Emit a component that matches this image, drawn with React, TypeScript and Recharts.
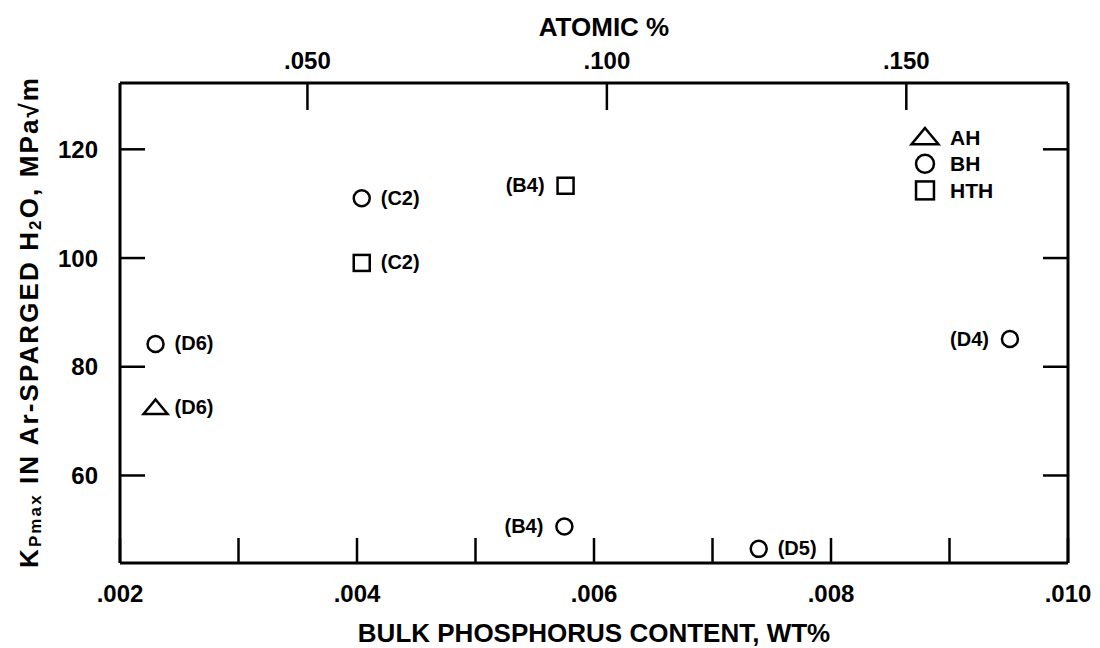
import { ScatterChart, Scatter, XAxis, YAxis, Legend } from 'recharts';

const font = '"Liberation Sans", Arial, Helvetica, sans-serif';

// bulk P content (wt%) vs K_Pmax (MPa√m), one set per heat treatment
const ahP = [0.0023];
const ahK = [72.5];
const ahTag = ['(D6)'];

const bhP = [0.0023, 0.00404, 0.00575, 0.00739, 0.00951];
const bhK = [84.2, 111.0, 50.6, 46.5, 85.1];
const bhTag = ['(D6)', '(C2)', '(B4)', '(D5)', '(D4)'];

const hthP = [0.00404, 0.00576];
const hthK = [99.1, 113.3];
const hthTag = ['(C2)', '(B4)'];

const wtTicks = [0.002, 0.003, 0.004, 0.005, 0.006, 0.007, 0.008, 0.009, 0.01];
const atTicks = [0.05, 0.1, 0.15];
const kTicks = [60, 80, 100, 120];

const wtDomain = [0.002, 0.01];
const atDomain = [0.0187, 0.177];
const kDomain = [43.9, 132.2];

const legendItems = ['AH', 'BH', 'HTH'];
// tags that sit on the left of their marker
const tagLeft = ['HTH (B4)', 'BH (B4)', 'BH (D4)'];

const toRows = (p: number[], k: number[], t: string[]) => p.map((v, i) => ({ p: v, k: k[i], tag: t[i] }));

const fmt = (v: number) => v.toFixed(3).replace(/^0/, '');

function Marker({ kind, cx, cy, big }: any) {
  const s = big ? 1.12 : 1;
  const common = { fill: 'none', stroke: '#000', strokeWidth: 2.5 };
  if (kind === 'AH') {
    return (
      <polygon
        points={`${cx},${cy - 8 * s} ${cx + 12 * s},${cy + 6.5 * s} ${cx - 12 * s},${cy + 6.5 * s}`}
        {...common}
      />
    );
  }
  if (kind === 'BH') return <circle cx={cx} cy={cy} r={8 * s} {...common} />;
  return <rect x={cx - 8 * s} y={cy - 8 * s} width={16 * s} height={16 * s} {...common} />;
}

const makeShape = (kind: string) => (props: any) => {
  const { cx, cy, payload } = props;
  const left = tagLeft.includes(`${kind} ${payload.tag}`);
  return (
    <g>
      <Marker kind={kind} cx={cx} cy={cy} />
      <text
        x={left ? cx - 21 : cx + 19}
        y={cy + 6.5}
        textAnchor={left ? 'end' : 'start'}
        fontSize={20}
        fontWeight="bold"
        fontFamily={font}
      >
        {payload.tag}
      </text>
    </g>
  );
};

const BottomTick = ({ x, y, payload }: any) => {
  const v = payload.value;
  const labelled = Math.round(v * 1000) % 2 === 0;
  return (
    <g>
      <line x1={x} x2={x} y1={y} y2={y - 25} stroke="#000" strokeWidth={2.5} />
      {labelled && (
        <text x={x} y={y + 39} textAnchor="middle" fontSize={24} fontWeight="bold" fontFamily={font}>
          {fmt(v)}
        </text>
      )}
    </g>
  );
};

const TopTick = ({ x, y, payload }: any) => (
  <g>
    <line x1={x} x2={x} y1={y} y2={y + 27} stroke="#000" strokeWidth={2.5} />
    <text x={x} y={y - 14} textAnchor="middle" fontSize={24} fontWeight="bold" fontFamily={font}>
      {fmt(payload.value)}
    </text>
  </g>
);

const LeftTick = ({ x, y, payload }: any) => (
  <g>
    <line x1={x} x2={x + 25} y1={y} y2={y} stroke="#000" strokeWidth={2.5} />
    <text x={x - 22} y={y + 8.6} textAnchor="end" fontSize={24} fontWeight="bold" fontFamily={font}>
      {payload.value}
    </text>
  </g>
);

const RightTick = ({ x, y }: any) => <line x1={x} x2={x - 25} y1={y} y2={y} stroke="#000" strokeWidth={2.5} />;

const YTitle = ({ viewBox }: any) => {
  const x = viewBox.x - 31;
  const y = viewBox.y + viewBox.height / 2;
  return (
    <text
      x={x}
      y={y}
      transform={`rotate(-90 ${x} ${y})`}
      textAnchor="middle"
      dominantBaseline="central"
      fontSize={26}
      fontWeight="bold"
      fontFamily={font}
      textLength={490}
      lengthAdjust="spacing"
    >
      K
      <tspan fontSize={17} dy={6}>Pmax</tspan>
      <tspan dy={-6}> IN Ar-SPARGED H</tspan>
      <tspan fontSize={17} dy={6}>2</tspan>
      <tspan dy={-6}>O, MPa√m</tspan>
    </text>
  );
};

const XTitle = ({ viewBox }: any) => (
  <text
    x={viewBox.x + viewBox.width / 2}
    y={viewBox.y + 79}
    textAnchor="middle"
    fontSize={26}
    fontWeight="bold"
    fontFamily={font}
  >
    BULK PHOSPHORUS CONTENT, WT%
  </text>
);

const TopTitle = ({ viewBox }: any) => (
  <text
    x={viewBox.x + viewBox.width / 2 + 10}
    y={viewBox.y - 7}
    textAnchor="middle"
    fontSize={26}
    fontWeight="bold"
    fontFamily={font}
  >
    ATOMIC %
  </text>
);

const LegendBox = () => (
  <svg width={110} height={90}>
    {legendItems.map((name, i) => {
      const cy = 17 + i * 26.7;
      return (
        <g key={name}>
          <Marker kind={name} cx={20} cy={cy} big />
          <text x={45} y={cy + 7.5} fontSize={21} fontWeight="bold" fontFamily={font}>
            {name}
          </text>
        </g>
      );
    })}
  </svg>
);

export default function App() {
  const axisLine = { stroke: '#000', strokeWidth: 3 };
  return (
    <div style={{ position: 'absolute', left: 0, top: 0, background: '#fff' }}>
      <ScatterChart width={1100} height={648} margin={{ top: 43, right: 30, bottom: 45, left: 60 }}>
        <XAxis
          xAxisId="wt"
          dataKey="p"
          type="number"
          domain={wtDomain}
          ticks={wtTicks}
          interval={0}
          height={40}
          tickSize={0}
          tickMargin={0}
          tickLine={false}
          axisLine={axisLine}
          tick={<BottomTick />}
          label={<XTitle />}
          allowDataOverflow
        />
        <XAxis
          xAxisId="at"
          dataKey="p"
          orientation="top"
          type="number"
          domain={atDomain}
          ticks={atTicks}
          interval={0}
          height={40}
          tickSize={0}
          tickMargin={0}
          tickLine={false}
          axisLine={axisLine}
          tick={<TopTick />}
          label={<TopTitle />}
          allowDataOverflow
        />
        <YAxis
          yAxisId="k"
          dataKey="k"
          type="number"
          domain={kDomain}
          ticks={kTicks}
          interval={0}
          width={60}
          tickSize={0}
          tickMargin={0}
          tickLine={false}
          axisLine={axisLine}
          tick={<LeftTick />}
          label={<YTitle />}
          allowDataOverflow
        />
        <YAxis
          yAxisId="kr"
          orientation="right"
          type="number"
          domain={kDomain}
          ticks={kTicks}
          interval={0}
          width={2}
          tickSize={0}
          tickMargin={0}
          tickLine={false}
          axisLine={axisLine}
          tick={<RightTick />}
          allowDataOverflow
        />
        <Legend
          layout="vertical"
          align="center"
          verticalAlign="middle"
          wrapperStyle={{ left: 905, top: 120, width: 110, height: 90 }}
          content={() => <LegendBox />}
        />
        {/* empty series so the atomic-% axis is linked and gets its ticks */}
        <Scatter xAxisId="at" yAxisId="kr" data={[]} isAnimationActive={false} />
        <Scatter
          name="AH"
          xAxisId="wt"
          yAxisId="k"
          data={toRows(ahP, ahK, ahTag)}
          shape={makeShape('AH')}
          isAnimationActive={false}
        />
        <Scatter
          name="BH"
          xAxisId="wt"
          yAxisId="k"
          data={toRows(bhP, bhK, bhTag)}
          shape={makeShape('BH')}
          isAnimationActive={false}
        />
        <Scatter
          name="HTH"
          xAxisId="wt"
          yAxisId="k"
          data={toRows(hthP, hthK, hthTag)}
          shape={makeShape('HTH')}
          isAnimationActive={false}
        />
      </ScatterChart>
    </div>
  );
}
